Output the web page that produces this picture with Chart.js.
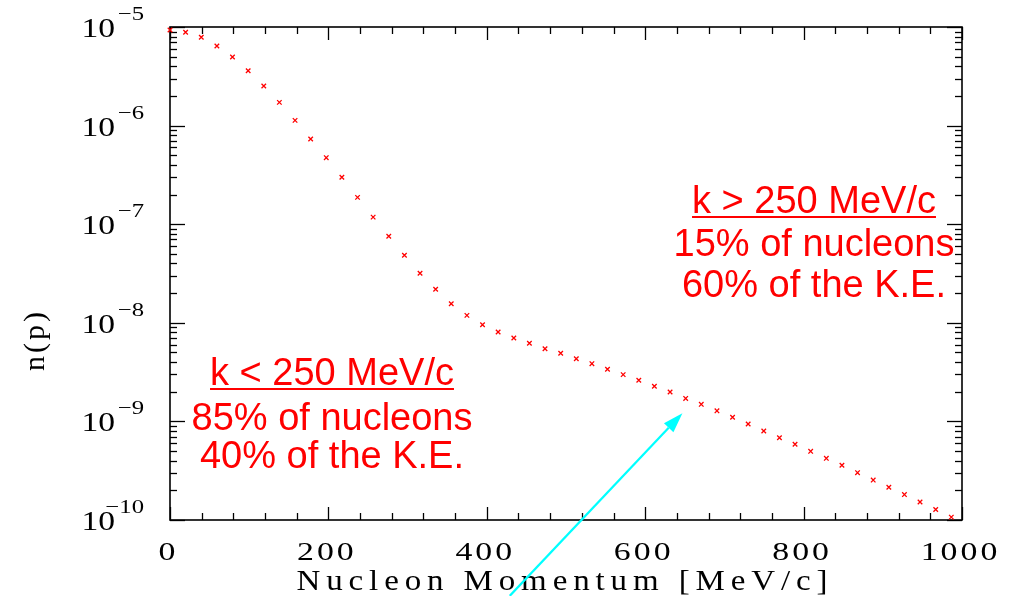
<!DOCTYPE html>
<html>
<head>
<meta charset="utf-8">
<title>Nucleon momentum distribution</title>
<script src="https://cdn.jsdelivr.net/npm/chart.js@4.4.1/dist/chart.umd.min.js"></script>
<style>
  html, body { margin: 0; padding: 0; background: #ffffff; }
  #wrap { width: 1013px; height: 596px; position: relative; }
</style>
</head>
<body>
<div id="wrap"><canvas id="c" width="1013" height="596"></canvas></div>
<script>
// Nucleon momentum k [MeV/c] (steps of 0.1 fm^-1)
const momentum = [
  0, 19.7, 39.5, 59.2, 78.9, 98.7, 118.4, 138.1, 157.9, 177.6,
  197.3, 217.0, 236.8, 256.5, 276.2, 296.0, 315.7, 335.4, 355.1, 374.9,
  394.6, 414.3, 434.1, 453.8, 473.5, 493.3, 513.0, 532.7, 552.4, 572.2,
  591.9, 611.6, 631.4, 651.1, 670.8, 690.6, 710.3, 730.0, 749.7, 769.5,
  789.2, 808.9, 828.7, 848.4, 868.1, 887.9, 907.6, 927.3, 947.0, 966.8,
  986.5
];

// Momentum distribution n(p)
const density = [
  9.33e-6, 8.84e-6, 7.86e-6, 6.42e-6, 4.96e-6, 3.60e-6, 2.52e-6, 1.72e-6, 1.13e-6, 7.31e-7,
  4.73e-7, 2.99e-7, 1.87e-7, 1.18e-7, 7.54e-8, 4.84e-8, 3.18e-8, 2.19e-8, 1.56e-8, 1.19e-8,
  9.57e-9, 8.07e-9, 7.01e-9, 6.20e-9, 5.46e-9, 4.91e-9, 4.32e-9, 3.85e-9, 3.38e-9, 2.98e-9,
  2.61e-9, 2.27e-9, 1.99e-9, 1.71e-9, 1.49e-9, 1.28e-9, 1.10e-9, 9.41e-10, 7.99e-10, 6.83e-10,
  5.86e-10, 4.97e-10, 4.22e-10, 3.59e-10, 3.02e-10, 2.54e-10, 2.15e-10, 1.81e-10, 1.52e-10, 1.28e-10,
  1.07e-10
];

// Axis tick labels
const xTickValues = [0, 200, 400, 600, 800, 1000];
const xTickLabels = ['0', '200', '400', '600', '800', '1000'];
const yTickExponents = [-5, -6, -7, -8, -9, -10];
const xTitle = 'Nucleon Momentum [MeV/c]';
const yTitle = 'n(p)';

// Annotation blocks
const lowBlock = ['k < 250 MeV/c', '85% of nucleons', '40% of the K.E.'];
const highBlock = ['k > 250 MeV/c', '15% of nucleons', '60% of the K.E.'];

// Arrow from below the axis up to the tail region (data coordinates)
const arrowFrom = { x: 429, y: 1.7e-11 };
const arrowTo = { x: 647, y: 1.21e-9 };

const SERIF = '"Liberation Serif", "DejaVu Serif", serif';
const SANS = '"Liberation Sans", Arial, sans-serif';

// Draws text char by char, stretched horizontally and with extra spacing.
function drawSpaced(ctx, text, x, y, opt) {
  const sx = opt.sx || 1;
  ctx.font = opt.font;
  const widths = [...text].map(ch => ctx.measureText(ch).width * sx);
  const sum = widths.reduce((a, b) => a + b, 0);
  let spacing = opt.spacing || 0;
  if (opt.width) spacing = (opt.width - sum) / (widths.length - 1);
  const total = sum + spacing * (widths.length - 1);
  let cx = x;
  if (opt.align === 'center') cx = x - total / 2;
  else if (opt.align === 'right') cx = x - total;
  ctx.textAlign = 'left';
  [...text].forEach((ch, i) => {
    ctx.save();
    ctx.translate(cx, y);
    ctx.scale(sx, 1);
    ctx.fillText(ch, 0, 0);
    ctx.restore();
    cx += widths[i] + spacing;
  });
  return cx - x;
}

const framePlugin = {
  id: 'frame',
  beforeDatasetsDraw(chart) {
    const { ctx, chartArea: a, scales: { x, y } } = chart;
    ctx.save();
    ctx.strokeStyle = '#000';
    ctx.lineWidth = 1.6;
    ctx.strokeRect(a.left, a.top, a.right - a.left, a.bottom - a.top);
    ctx.lineWidth = 1.3;
    const seg = (x1, y1, x2, y2) => { ctx.beginPath(); ctx.moveTo(x1, y1); ctx.lineTo(x2, y2); ctx.stroke(); };
    // x ticks: major every 200, minor every 40, on bottom and top edges
    for (let v = 0; v <= 1000; v += 40) {
      const px = Math.round(x.getPixelForValue(v)) + 0.5;
      const len = (v % 200 === 0) ? 13 : 7;
      seg(px, a.bottom, px, a.bottom - len);
      seg(px, a.top, px, a.top + len);
    }
    // y ticks: decades major, 2..9 minor, on left and right edges
    for (let e = -10; e <= -5; e++) {
      for (let m = 1; m <= 9; m++) {
        if (e === -5 && m > 1) break;
        const py = Math.round(y.getPixelForValue(m * Math.pow(10, e))) + 0.5;
        const len = m === 1 ? 15 : 7;
        seg(a.left, py, a.left + len, py);
        seg(a.right, py, a.right - len, py);
      }
    }
    ctx.restore();
  },
  afterDraw(chart) {
    const { ctx, chartArea: a, scales: { x, y } } = chart;
    ctx.save();
    ctx.fillStyle = '#000';
    ctx.textBaseline = 'alphabetic';

    // x tick labels
    xTickValues.forEach((v, i) => {
      const px = x.getPixelForValue(v) - 3;
      drawSpaced(ctx, xTickLabels[i], px, 560, { font: '26px ' + SERIF, sx: 1.3, spacing: 3, align: 'center' });
    });

    // y tick labels: 10 with superscript exponent
    yTickExponents.forEach(e => {
      const py = y.getPixelForValue(Math.pow(10, e));
      drawSpaced(ctx, '10', a.left - 55, py + 10, { font: '28px ' + SERIF, sx: 1.2, align: 'right' });
      drawSpaced(ctx, '\u2212' + Math.abs(e), a.left - 26, py - 7, { font: '19px ' + SERIF, sx: 1.3, align: 'right' });
    });

    // axis titles
    drawSpaced(ctx, xTitle, (a.left + a.right) / 2 - 4, 590, { font: '30px ' + SERIF, sx: 1.1, width: 531, align: 'center' });
    ctx.save();
    ctx.translate(44, (a.top + a.bottom) / 2 + 68);
    ctx.rotate(-Math.PI / 2);
    drawSpaced(ctx, yTitle, 0, 0, { font: '30px ' + SERIF, spacing: 3, align: 'center' });
    ctx.restore();

    // annotation blocks
    ctx.fillStyle = '#ff0000';
    ctx.strokeStyle = '#ff0000';
    ctx.font = '38px ' + SANS;
    ctx.textAlign = 'center';
    const block = (lines, cx, baselines) => {
      lines.forEach((t, i) => ctx.fillText(t, cx, baselines[i]));
      const w = ctx.measureText(lines[0]).width;
      ctx.lineWidth = 2;
      ctx.beginPath();
      ctx.moveTo(cx - w / 2, baselines[0] + 4);
      ctx.lineTo(cx + w / 2, baselines[0] + 4);
      ctx.stroke();
    };
    block(lowBlock, 332, [385, 430, 468]);
    block(highBlock, 814, [213, 256, 297]);

    // arrow
    const x1 = x.getPixelForValue(arrowFrom.x), y1 = y.getPixelForValue(arrowFrom.y);
    const x2 = x.getPixelForValue(arrowTo.x), y2 = y.getPixelForValue(arrowTo.y);
    const ang = Math.atan2(y2 - y1, x2 - x1);
    const head = 20, half = 6.5;
    const bx = x2 - head * Math.cos(ang), by = y2 - head * Math.sin(ang);
    ctx.strokeStyle = '#00ffff';
    ctx.fillStyle = '#00ffff';
    ctx.lineWidth = 2.2;
    ctx.beginPath();
    ctx.moveTo(x1, y1);
    ctx.lineTo(bx, by);
    ctx.stroke();
    ctx.beginPath();
    ctx.moveTo(x2, y2);
    ctx.lineTo(bx + half * Math.sin(ang), by - half * Math.cos(ang));
    ctx.lineTo(bx - half * Math.sin(ang), by + half * Math.cos(ang));
    ctx.closePath();
    ctx.fill();
    ctx.restore();
  }
};

new Chart(document.getElementById('c'), {
  type: 'scatter',
  data: {
    datasets: [{
      data: momentum.map((k, i) => ({ x: k, y: density[i] })),
      pointStyle: 'crossRot',
      radius: 3.2,
      borderColor: '#ff0000',
      backgroundColor: '#ff0000',
      borderWidth: 1.3,
      clip: false
    }]
  },
  options: {
    responsive: false,
    animation: false,
    devicePixelRatio: 1,
    layout: { padding: { left: 170, right: 51, top: 27, bottom: 76 } },
    plugins: { legend: { display: false }, tooltip: { enabled: false } },
    scales: {
      x: { type: 'linear', min: 0, max: 1000, display: false },
      y: { type: 'logarithmic', min: 1e-10, max: 1e-5, display: false }
    }
  },
  plugins: [framePlugin]
});
</script>
</body>
</html>
